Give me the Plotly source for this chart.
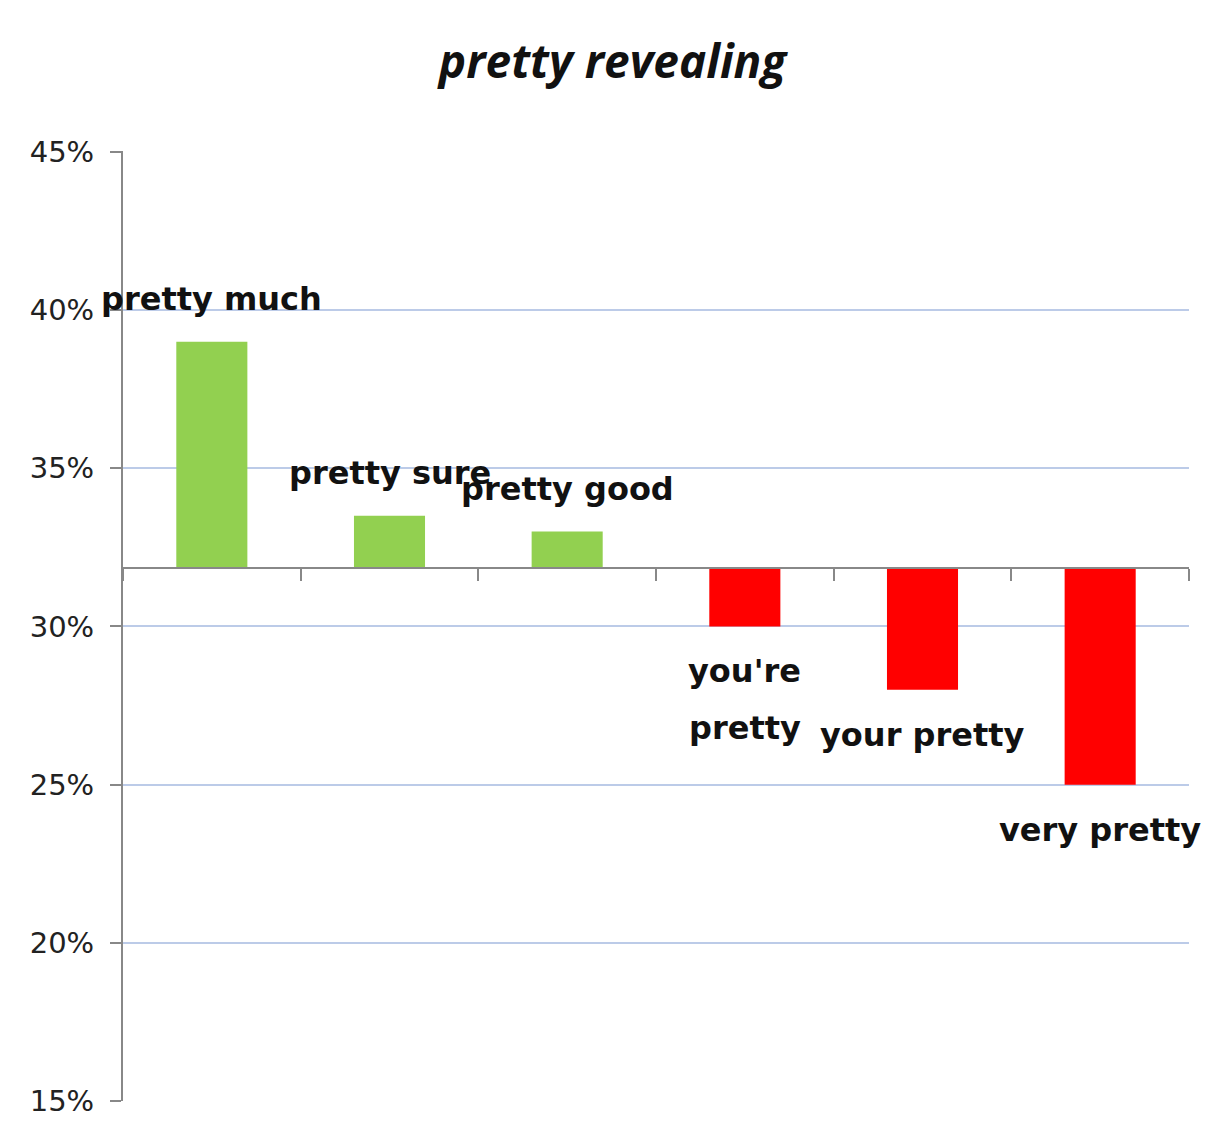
import plotly.graph_objects as go

categories = ["pretty much", "pretty sure", "pretty good", "you're pretty", "your pretty", "very pretty"]
label_lines = [["pretty much"], ["pretty sure"], ["pretty good"], ["you're", "pretty"], ["your pretty"], ["very pretty"]]
values = [39.0, 33.5, 33.0, 30.0, 28.0, 25.0]
baseline = 31.85
y_ticks = [15, 20, 25, 30, 35, 40, 45]

colors = ["#92d050" if v >= baseline else "#ff0000" for v in values]

fig = go.Figure()
fig.add_trace(go.Bar(
    x=categories,
    y=[v - baseline for v in values],
    base=baseline,
    marker=dict(color=colors, line=dict(width=0)),
    width=0.4,
    hoverinfo="skip",
))

line_gap = 57
for cat, lines, v in zip(categories, label_lines, values):
    up = v >= baseline
    n = len(lines)
    for i, line in enumerate(lines):
        if up:
            shift = 22 + (n - 1 - i) * line_gap
        else:
            shift = -24 - i * line_gap
        fig.add_annotation(
            x=cat, y=v, text="<b>" + line + "</b>",
            showarrow=False,
            yanchor="bottom" if up else "top",
            yshift=shift,
            font=dict(family="DejaVu Sans", size=32, color="#111"),
            align="center",
        )

y_min, y_max = 15, 45.03

fig.update_layout(
    width=1209, height=1124,
    margin=dict(l=115, r=28, t=143, b=31),
    paper_bgcolor="white",
    plot_bgcolor="white",
    showlegend=False,
    title=dict(
        text="<b><i>pretty revealing</i></b>",
        x=0.5, xanchor="center", y=0.952, yanchor="middle",
        font=dict(family="Open Sans", size=46, color="#111"),
    ),
    yaxis=dict(
        range=[y_min, y_max],
        tickvals=y_ticks,
        ticktext=[f"{t}%" for t in y_ticks],
        showgrid=True, gridcolor="#bccbe8", gridwidth=1.5,
        showline=True, linecolor="#888", linewidth=2,
        ticks="outside", ticklen=11, tickcolor="#888", tickwidth=2,
        ticklabelstandoff=10,
        tickfont=dict(family="DejaVu Sans", size=29, color="#222"),
        zeroline=False,
    ),
    xaxis=dict(
        range=[-0.5, 5.5],
        anchor="free",
        position=(baseline - y_min) / (y_max - y_min),
        showline=True, linecolor="#888", linewidth=2,
        ticks="outside", ticklen=12, tickcolor="#888", tickwidth=2,
        tickson="boundaries",
        showticklabels=False,
        showgrid=False,
        zeroline=False,
    ),
)

fig.write_html("out.html")
